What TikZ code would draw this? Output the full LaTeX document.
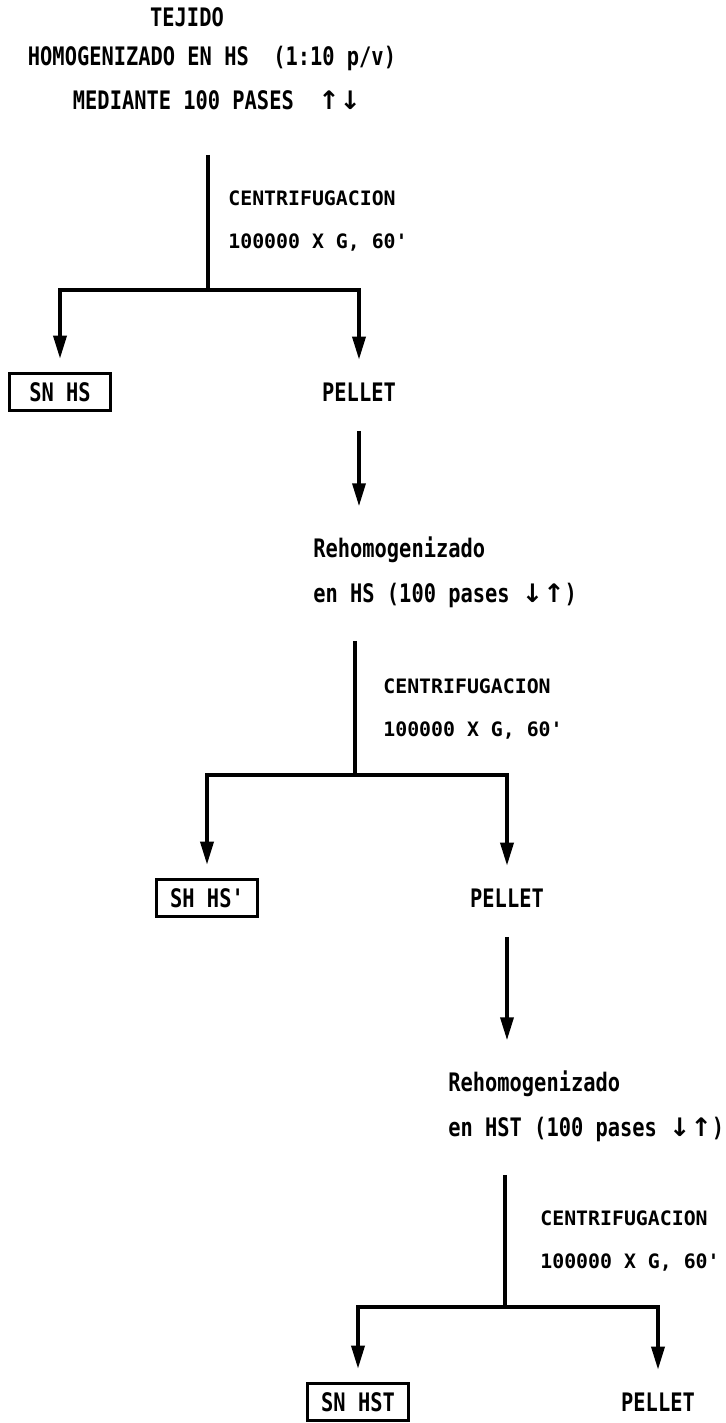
\documentclass[tikz,border=0pt]{standalone}
\usepackage{fontspec}
\usepackage{tikz}
\usetikzlibrary{arrows.meta, calc}
\newfontfamily\dotfont{DejaVu Sans Mono}[FakeStretch=0.8]
\newfontfamily\dotsmall{DejaVu Sans Mono}
\newfontfamily\arrfont{DejaVu Sans}
\newcommand\updn{{\arrfont\bfseries ↑↓}}
\newcommand\dnup{{\arrfont\bfseries ↓↑}}
\tikzset{
  txt/.style={font=\dotfont\bfseries\fontsize{14.5}{25.5}\selectfont,
              inner sep=0pt, align=center},
  stxt/.style={font=\dotsmall\bfseries\fontsize{11.3}{24.4}\selectfont,
               inner sep=0pt, anchor=west, align=left},
  rtxt/.style={txt, anchor=west, align=left},
  snbox/.style={txt, draw, line width=1.5pt, minimum width=2.02cm,
                minimum height=0.74cm},
  pel/.style={txt, minimum height=0.74cm},
  ln/.style={line width=2pt},
  ar/.style={-{Triangle[length=4.6mm, width=2.6mm]}, line width=2pt},
}

\begin{document}
\begin{tikzpicture}[x=0.02cm, y=-0.02cm]
\useasboundingbox (0,0) rectangle (725,1423);

%% ============================================================
%% HEAD
%% ============================================================
\node[txt] (tejido) at (187,17) {TEJIDO};
\node[txt] (homog)  at (212,58) {HOMOGENIZADO EN HS\ \ (1:10 p/v)};
\node[txt] (medi)   at (217,100) {MEDIANTE 100 PASES\ \ \updn};

%% --- 1. first spin ---  bar at y = 290
\coordinate (c1) at (208,290);
\draw[ln, shorten <=0.9cm] (medi.south -| c1) -- (c1);
\node[stxt] (cen1) at (228,221) {CENTRIFUGACION\\100000 X G, 60'};

\node[snbox] (snhs) at (60,392) {SN HS};
\node[pel]   (pel1) at (359,392) {PELLET};

\draw[ar, shorten >=0.27cm] (c1) -| (snhs.north);
\draw[ar, shorten >=0.27cm] (c1) -| (pel1.north);

%% --- 2. second spin ---  bar at y = 775
\node[rtxt] (reh1) at (313,572) {Rehomogenizado\\en HS (100 pases \dnup)};
\draw[ar, shorten <=0.4cm, shorten >=0.6cm] (pel1.south) -- (pel1.south |- reh1.north);

\coordinate (c2) at (355,775);
\draw[ln, shorten <=0.66cm] (reh1.south -| c2) -- (c2);
\node[stxt] (cen2) at (383,709) {CENTRIFUGACION\\100000 X G, 60'};

\node[snbox] (snhs2) at (207,898) {SH HS'};
\node[pel]   (pel2)  at (507,898) {PELLET};

\draw[ar, shorten >=0.27cm] (c2) -| (snhs2.north);
\draw[ar, shorten >=0.27cm] (c2) -| (pel2.north);

%% --- 3. third spin ---  bar at y = 1307
\node[rtxt] (reh2) at (448,1106) {Rehomogenizado\\en HST (100 pases \dnup)};
\draw[ar, shorten <=0.4cm, shorten >=0.6cm] (pel2.south) -- (pel2.south |- reh2.north);

\coordinate (c3) at (505,1307);
\draw[ln, shorten <=0.66cm] (reh2.south -| c3) -- (c3);
\node[stxt] (cen3) at (540,1241) {CENTRIFUGACION\\100000 X G, 60'};

\node[snbox] (snhst) at (358,1402) {SN HST};
\node[pel]   (pel3)  at (658,1402) {PELLET};

\draw[ar, shorten >=0.27cm] (c3) -| (snhst.north);
\draw[ar, shorten >=0.27cm] (c3) -| (pel3.north);

\end{tikzpicture}
\end{document}
